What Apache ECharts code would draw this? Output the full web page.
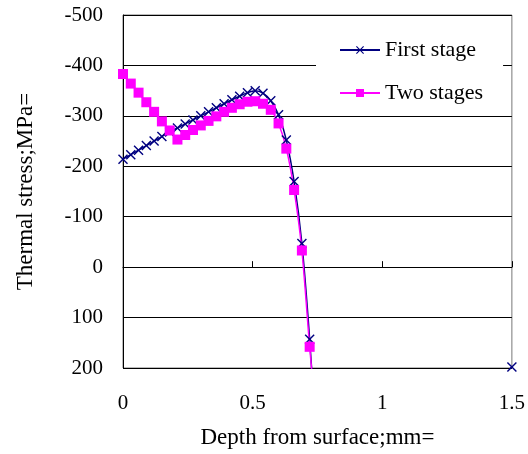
<!DOCTYPE html>
<html>
<head>
<meta charset="utf-8">
<script src="https://cdn.jsdelivr.net/npm/echarts@6/dist/echarts.min.js"></script>
<style>
html, body { margin: 0; padding: 0; background: #fff; }
#chart { width: 528px; height: 454px; }
</style>
</head>
<body>
<div id="chart"></div>
<script>
// depth (mm) and thermal stress (MPa); values past 0.72 mm run off the chart
var depth = [0, 0.03, 0.06, 0.09, 0.12, 0.15, 0.18, 0.21, 0.24, 0.27, 0.30, 0.33, 0.36,
    0.39, 0.42, 0.45, 0.48, 0.51, 0.54, 0.57, 0.60, 0.63, 0.66, 0.69, 0.72, 0.75, 1.0, 1.47, 1.5];
var firstStage = [-214, -223, -232, -241, -250, -259, -268, -276, -284, -292, -300, -308, -316,
    -324, -332, -339, -346, -350, -345, -330, -302, -252, -170, -47, 143, 380, '-', 212, 198];
var twoStages = [-383, -364, -346, -327, -308, -289, -271, -253, -262, -272, -281, -290, -299,
    -308, -316, -323, -328, -329, -324, -312, -285, -235, -153, -33, 158, 330, '-', 216, 204];
var yTicks = { min: -500, max: 200, step: 100 };
var xTicks = { min: 0, max: 1.5, step: 0.5 };

function pairs(xs, ys) {
    var out = [];
    for (var i = 0; i < xs.length; i++) out.push([xs[i], ys[i]]);
    return out;
}

var crossIcon = 'path://M0,1L1,0L5,4L9,0L10,1L6,5L10,9L9,10L5,6L1,10L0,9L4,5Z';
var font = 'Liberation Serif';

var myChart = echarts.init(document.getElementById('chart'));

option = {
    backgroundColor: '#fff',
    animation: false,
    textStyle: { fontFamily: font, color: '#000' },
    grid: {
        left: 123, top: 15, right: 15, bottom: 86,
        show: true, borderColor: '#777', borderWidth: 1
    },
    legend: {
        left: 316, top: 27,
        orient: 'vertical',
        backgroundColor: '#fff',
        padding: [12, 20, 12, 23],
        itemWidth: 40, itemHeight: 10, itemGap: 21,
        textStyle: { fontFamily: font, fontSize: 22, color: '#000' },
        data: ['First stage', 'Two stages']
    },
    xAxis: {
        type: 'value',
        min: xTicks.min, max: xTicks.max, interval: xTicks.step,
        name: 'Depth from surface;mm=',
        nameLocation: 'middle', nameGap: 58,
        nameTextStyle: { fontFamily: font, fontSize: 23, color: '#000' },
        axisLine: { lineStyle: { color: '#000', width: 1 } },
        axisTick: { inside: true, length: 6, lineStyle: { color: '#000' } },
        axisLabel: { fontFamily: font, fontSize: 21, color: '#000', margin: 25 },
        splitLine: { show: false }
    },
    yAxis: {
        type: 'value',
        inverse: true,
        min: yTicks.min, max: yTicks.max, interval: yTicks.step,
        name: 'Thermal stress;MPa=',
        nameLocation: 'middle', nameGap: 86,
        nameTextStyle: { fontFamily: font, fontSize: 23, color: '#000' },
        axisLine: { show: true, lineStyle: { color: '#000', width: 1 } },
        axisTick: { show: true, inside: true, length: 6, lineStyle: { color: '#000' } },
        axisLabel: { fontFamily: font, fontSize: 21, color: '#000', margin: 20 },
        splitLine: { show: true, lineStyle: { color: '#000', width: 1 } }
    },
    series: [{
        name: 'First stage',
        type: 'line',
        smooth: 0.3,
        clip: true,
        data: pairs(depth, firstStage),
        symbol: crossIcon,
        symbolSize: 10,
        lineStyle: { color: '#000080', width: 1.5 },
        itemStyle: { color: '#000080' }
    }, {
        name: 'Two stages',
        type: 'line',
        smooth: 0.3,
        clip: true,
        data: pairs(depth, twoStages),
        symbol: 'rect',
        symbolSize: 10,
        lineStyle: { color: '#ff00ff', width: 1.5 },
        itemStyle: { color: '#ff00ff' }
    }]
};
myChart.setOption(option);
</script>
</body>
</html>
